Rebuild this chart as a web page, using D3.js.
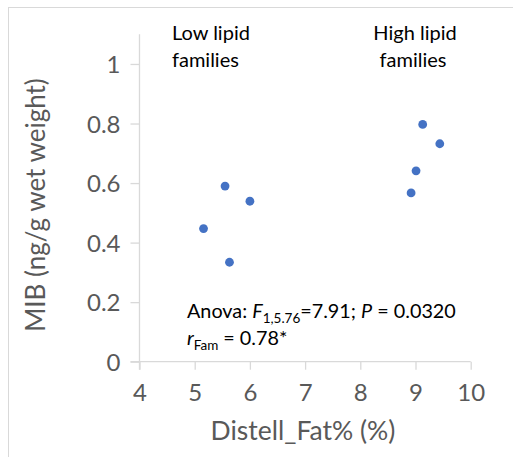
<!DOCTYPE html>
<html>
<head>
<meta charset="utf-8">
<script src="https://cdn.jsdelivr.net/npm/d3@7"></script>
<style>
  html, body { margin: 0; padding: 0; background: #fff; }
  svg { display: block; }
  text { font-family: Lato, "Open Sans", sans-serif; }
</style>
</head>
<body>
<svg id="chart" width="513" height="457"></svg>
<script>
// Fat content (%) and MIB concentration per family
const fatPct = [5.16, 5.55, 5.63, 6.0, 8.92, 9.01, 9.13, 9.44];
const mib    = [0.447, 0.590, 0.334, 0.539, 0.567, 0.641, 0.797, 0.732];
const xTicks = [4, 5, 6, 7, 8, 9, 10];
const yTicks = [0, 0.2, 0.4, 0.6, 0.8, 1];

const svg = d3.select("#chart");
const axisGray = "#d9d9d9";
const labelGray = "#595959";

// outer chart frame
svg.append("rect")
  .attr("x", 8.5).attr("y", 7.5)
  .attr("width", 520).attr("height", 470)
  .attr("fill", "#fff").attr("stroke", axisGray).attr("stroke-width", 1);

const x = d3.scaleLinear().domain([4, 10]).range([139.5, 470.7]);
const y = d3.scaleLinear().domain([0, 1.1]).range([361.7, 34.2]);

// x axis
const xAxis = svg.append("g")
  .attr("transform", `translate(0,${y(0)})`)
  .call(d3.axisBottom(x).tickValues(xTicks).tickSize(8).tickPadding(10)
    .tickFormat(d3.format("d")));
xAxis.select(".domain").attr("d", `M${x(4) - 9},0H${x(10)}`);
// y axis
const yAxis = svg.append("g")
  .attr("transform", `translate(${x(4)},0)`)
  .call(d3.axisLeft(y).tickValues(yTicks).tickSize(9).tickPadding(10)
    .tickFormat(d => d === 0 || d === 1 ? d3.format("d")(d) : d3.format(".1f")(d)));
yAxis.select(".domain").attr("d", `M0,${y(1.1)}V${y(0) + 8}`);

[xAxis, yAxis].forEach(g => {
  g.selectAll(".domain").attr("stroke", axisGray).attr("stroke-width", 1.3);
  g.selectAll(".tick line").attr("stroke", axisGray).attr("stroke-width", 1.3);
  g.selectAll(".tick text").attr("fill", labelGray)
    .style("font-size", "24px");
});
xAxis.selectAll(".tick text").attr("dy", "0.9em");
yAxis.selectAll(".tick text").attr("dy", "0.36em");

// axis titles
svg.append("text")
  .attr("x", 303).attr("y", 440)
  .attr("text-anchor", "middle")
  .attr("fill", labelGray).style("font-size", "26.5px")
  .text("Distell_Fat% (%)");
svg.append("text")
  .attr("transform", "translate(45,205) rotate(-90)")
  .attr("text-anchor", "middle")
  .attr("fill", labelGray).style("font-size", "26px")
  .text("MIB (ng/g wet weight)");

// points
svg.append("g").selectAll("circle")
  .data(fatPct.map((f, i) => [f, mib[i]]))
  .join("circle")
  .attr("cx", d => x(d[0]))
  .attr("cy", d => y(d[1]))
  .attr("r", 4.4)
  .attr("fill", "#4472c4");

// group labels
const note = { fill: "#000", size: "20px" };
function addText(tx, ty, anchor, str) {
  return svg.append("text").attr("x", tx).attr("y", ty)
    .attr("text-anchor", anchor).attr("fill", note.fill)
    .style("font-size", note.size).text(str);
}
addText(172, 40, "start", "Low lipid");
addText(172, 67, "start", "families");
addText(415, 40, "middle", "High lipid");
addText(413, 67, "middle", "families");

// statistics
const s1 = svg.append("text").attr("x", 187).attr("y", 318)
  .attr("fill", "#000").style("font-size", "19.8px");
s1.append("tspan").text("Anova: ");
s1.append("tspan").attr("font-style", "italic").text("F");
s1.append("tspan").attr("dy", 5).style("font-size", "13.5px").text("1,5.76");
s1.append("tspan").attr("dy", -5).text("=7.91; ");
s1.append("tspan").attr("font-style", "italic").text("P");
s1.append("tspan").text(" = 0.0320");

const s2 = svg.append("text").attr("x", 187).attr("y", 345)
  .attr("fill", "#000").style("font-size", "19.8px");
s2.append("tspan").attr("font-style", "italic").text("r");
s2.append("tspan").attr("dy", 5).style("font-size", "13.5px").text("Fam");
s2.append("tspan").attr("dy", -5).text(" = 0.78*");
</script>
</body>
</html>
